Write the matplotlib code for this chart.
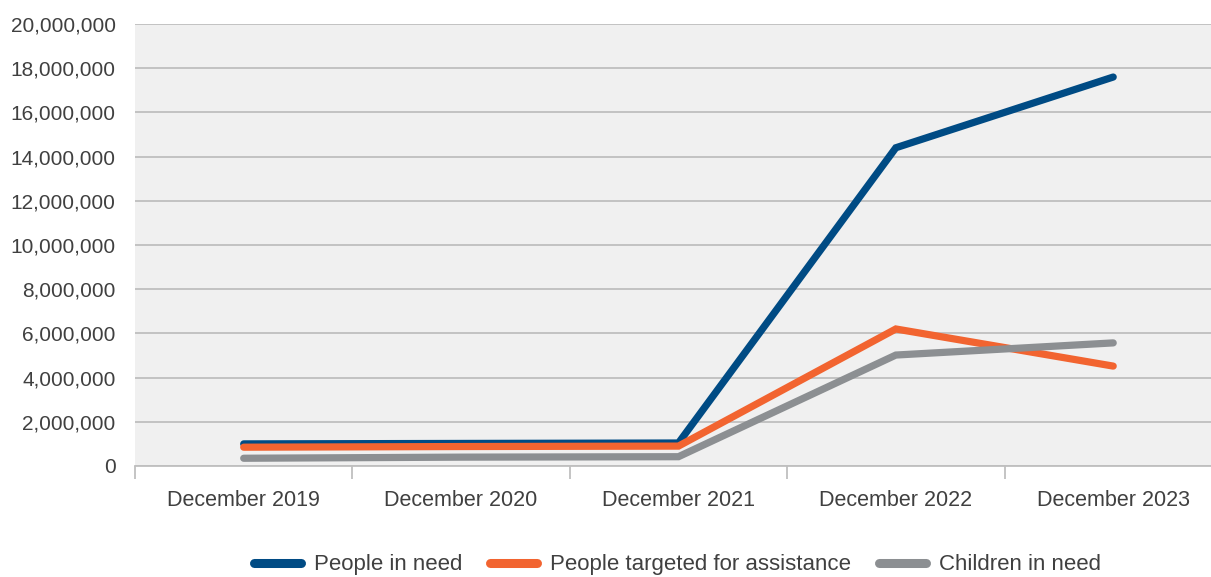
import matplotlib.pyplot as plt
import numpy as np
from matplotlib.ticker import FuncFormatter, FixedLocator

plt.rcParams['font.family'] = ['Liberation Sans', 'DejaVu Sans']

years = ['December 2019', 'December 2020', 'December 2021',
         'December 2022', 'December 2023']
people_in_need = [1000000, 1020000, 1040000, 14400000, 17600000]
people_targeted = [850000, 880000, 900000, 6200000, 4520000]
children_in_need = [350000, 400000, 420000, 5020000, 5570000]

series = [
    ('People in need', people_in_need, '#004b84'),
    ('People targeted for assistance', people_targeted, '#f26430'),
    ('Children in need', children_in_need, '#8c8f92'),
]

fig = plt.figure(figsize=(12.11, 5.77), dpi=100)
ax = fig.add_axes([0.1115, 0.1924, 0.8975, 0.766])
ax.set_facecolor('#f0f0f0')

x = np.arange(len(years))
for name, vals, col in series:
    ax.plot(x, vals, color=col, lw=5.2, label=name,
            solid_capstyle='round', solid_joinstyle='miter')

ax.set_xlim(-0.5, len(years) - 0.5)
ax.set_ylim(0, 20000000)
ax.set_yticks(np.arange(0, 20000001, 2000000))
ax.yaxis.set_major_formatter(FuncFormatter(lambda v, p: f'{int(v):,}'))
ax.grid(axis='y', color='#bfbfbf', lw=1.3)
ax.set_axisbelow(True)

ax.set_xticks(x)
ax.set_xticklabels(years)
ax.xaxis.set_minor_locator(FixedLocator(np.arange(-0.5, len(years), 1)))
ax.tick_params(axis='x', which='major', length=0, pad=17,
               labelsize=15.5, labelcolor='#404040')
ax.tick_params(axis='x', which='minor', length=9, width=1.3, color='#bfbfbf')
ax.tick_params(axis='y', length=0, pad=14, labelsize=15, labelcolor='#404040')

for s in ['top', 'right', 'left']:
    ax.spines[s].set_visible(False)
ax.spines['bottom'].set_color('#bfbfbf')
ax.spines['bottom'].set_linewidth(1.3)

leg = fig.legend(loc='center', bbox_to_anchor=(0.5595, 0.021), ncol=3,
                 frameon=False, fontsize=16, handlelength=2.1,
                 handletextpad=0.6, columnspacing=1.25)
for t in leg.get_texts():
    t.set_color('#404040')
for h in leg.legend_handles:
    h.set_linewidth(6.5)
    h.set_solid_capstyle('round')

fig.savefig('out.png', dpi=100)
